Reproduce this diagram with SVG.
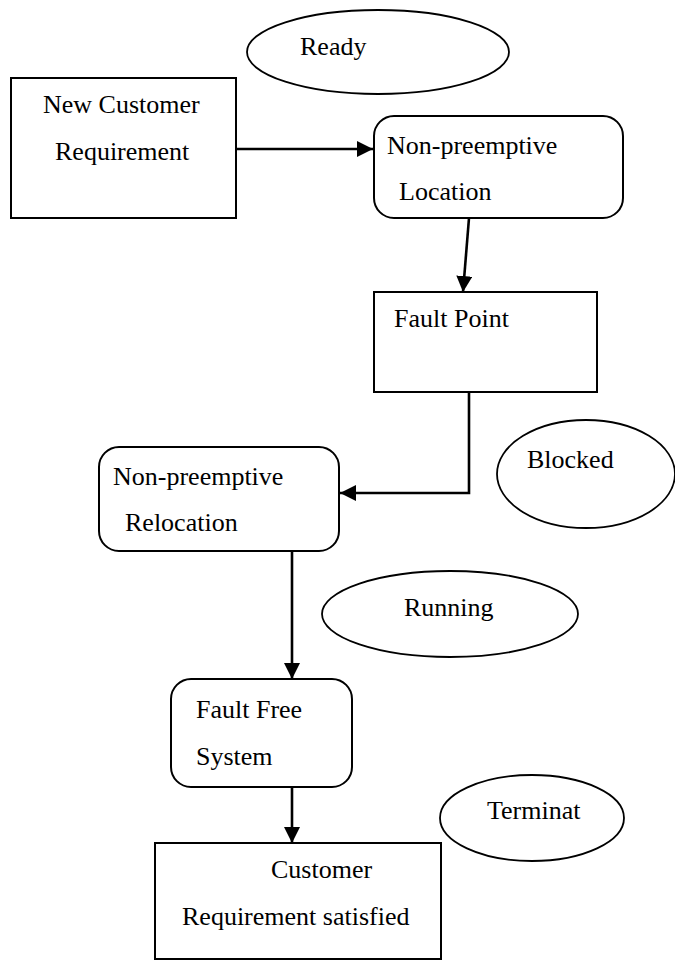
<svg xmlns="http://www.w3.org/2000/svg" width="675" height="960" viewBox="0 0 675 960">
  <style>
    .box { fill: #ffffff; stroke: #000000; stroke-width: 2; }
    .state { fill: #ffffff; stroke: #000000; stroke-width: 1.8; }
    .label { font-size: 26px; fill: #000000; }
    .flow { fill: none; stroke: #000000; stroke-width: 2.6; }
  </style>
  <defs>
    <marker id="arrow" markerUnits="userSpaceOnUse" markerWidth="17" markerHeight="17" refX="16" refY="8" orient="auto">
      <path d="M0,0 L16,8 L0,16 z" fill="#000000"/>
    </marker>
  </defs>

  <rect width="675" height="960" fill="#ffffff"/>

  <!-- connectors -->
  <g id="connectors">
    <path class="flow" d="M236,149 H373" marker-end="url(#arrow)"/>
    <path class="flow" d="M469,218 L463,292" marker-end="url(#arrow)"/>
    <path class="flow" d="M469,386 V493 H340" marker-end="url(#arrow)"/>
    <path class="flow" d="M292,551 V679" marker-end="url(#arrow)"/>
    <path class="flow" d="M292,787 V843" marker-end="url(#arrow)"/>
  </g>

  <g font-family="Liberation Serif, Times New Roman, DejaVu Serif, serif">
    <!-- state ellipses -->
    <g id="ready">
      <ellipse class="state" cx="378" cy="52" rx="131" ry="42"/>
      <text class="label" x="300" y="55">Ready</text>
    </g>
    <g id="blocked">
      <ellipse class="state" cx="586" cy="474" rx="89" ry="54"/>
      <text class="label" x="527" y="468">Blocked</text>
    </g>
    <g id="running">
      <ellipse class="state" cx="450" cy="614" rx="128" ry="43"/>
      <text class="label" x="404" y="616">Running</text>
    </g>
    <g id="terminat">
      <ellipse class="state" cx="532" cy="818" rx="92" ry="43"/>
      <text class="label" x="487" y="819">Terminat</text>
    </g>

    <!-- process boxes -->
    <g id="new-customer-requirement">
      <rect class="box" x="11" y="78" width="225" height="140"/>
      <text class="label" x="43" y="113">New Customer</text>
      <text class="label" x="55" y="160">Requirement</text>
    </g>
    <g id="non-preemptive-location">
      <rect class="box" x="374" y="116" width="249" height="102" rx="20" ry="20"/>
      <text class="label" x="387" y="154">Non-preemptive</text>
      <text class="label" x="399" y="200">Location</text>
    </g>
    <g id="fault-point">
      <rect class="box" x="374" y="292" width="223" height="100"/>
      <text class="label" x="394" y="327">Fault Point</text>
    </g>
    <g id="non-preemptive-relocation">
      <rect class="box" x="99" y="447" width="240" height="104" rx="20" ry="20"/>
      <text class="label" x="113" y="485">Non-preemptive</text>
      <text class="label" x="125" y="531">Relocation</text>
    </g>
    <g id="fault-free-system">
      <rect class="box" x="171" y="679" width="181" height="108" rx="20" ry="20"/>
      <text class="label" x="196" y="718">Fault Free</text>
      <text class="label" x="196" y="765">System</text>
    </g>
    <g id="customer-requirement-satisfied">
      <rect class="box" x="155" y="843" width="286" height="116"/>
      <text class="label" x="271" y="878">Customer</text>
      <text class="label" x="182" y="925">Requirement satisfied</text>
    </g>
  </g>
</svg>
